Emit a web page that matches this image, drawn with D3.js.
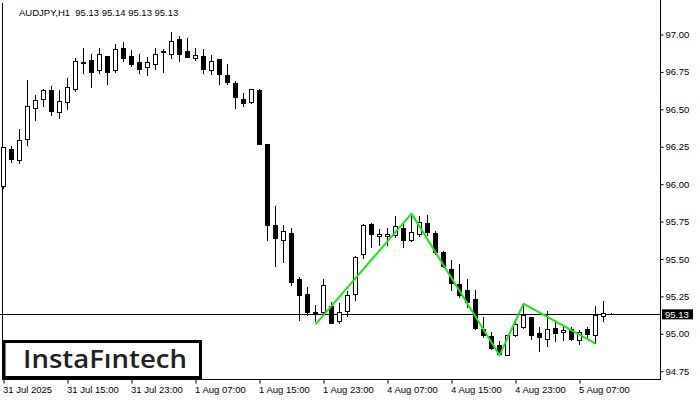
<!DOCTYPE html>
<html><head><meta charset="utf-8">
<script src="https://cdn.jsdelivr.net/npm/d3@7"></script>
<style>html,body{margin:0;padding:0;background:#fff;} svg{display:block}</style>
</head><body>
<svg id="c" width="700" height="400"></svg>
<script>
// ---- data (AUDJPY H1, bar 0 = 31 Jul 07:00) ----
const opens  = [95.986,96.235,96.164,96.305,96.512,96.572,96.628,96.485,96.547,96.636,96.810,96.828,96.766,96.855,96.766,96.913,96.853,96.813,96.783,96.803,96.886,96.870,96.969,96.888,96.844,96.855,96.766,96.835,96.728,96.676,96.572,96.549,96.628,96.267,95.725,95.630,95.672,95.364,95.269,95.140,95.146,95.184,95.086,95.155,95.269,95.531,95.737,95.656,95.656,95.658,95.710,95.625,95.670,95.739,95.674,95.547,95.436,95.331,95.291,95.231,95.030,94.983,94.923,94.856,94.995,95.045,95.110,95.008,94.968,95.041,95.012,95.035,94.957,95.030,94.995,95.119,95.130];
const highs  = [96.250,96.253,96.367,96.695,96.594,96.635,96.654,96.632,96.706,96.846,96.913,96.873,96.913,96.858,96.935,96.949,96.895,96.868,96.850,96.913,96.906,97.015,96.989,96.975,96.913,96.906,96.866,96.838,96.806,96.690,96.612,96.639,96.634,96.270,95.852,95.725,95.707,95.378,95.311,95.190,95.364,95.213,95.206,95.284,95.518,95.737,95.740,95.703,95.705,95.787,95.750,95.787,95.785,95.792,95.685,95.552,95.491,95.469,95.364,95.291,95.112,95.012,94.952,94.990,95.084,95.200,95.112,95.045,95.150,95.090,95.057,95.045,95.023,95.045,95.184,95.217,95.140];
const lows   = [95.973,96.148,96.142,96.260,96.427,96.520,96.460,96.443,96.500,96.623,96.743,96.650,96.743,96.670,96.750,96.824,96.790,96.743,96.728,96.770,96.750,96.844,96.824,96.850,96.830,96.743,96.739,96.666,96.666,96.512,96.523,96.543,96.270,95.630,95.453,95.480,95.329,95.090,95.124,95.086,95.140,95.072,95.072,95.117,95.229,95.509,95.580,95.596,95.596,95.650,95.580,95.620,95.652,95.658,95.536,95.445,95.291,95.246,95.179,95.030,94.979,94.901,94.856,94.856,94.985,95.040,94.968,94.885,94.917,94.950,94.961,94.957,94.935,94.979,94.941,95.084,95.130];
const closes = [96.245,96.171,96.293,96.525,96.565,96.632,96.489,96.554,96.652,96.826,96.815,96.750,96.868,96.750,96.906,96.844,96.801,96.770,96.813,96.873,96.890,96.955,96.870,96.850,96.866,96.770,96.824,96.733,96.683,96.583,96.543,96.634,96.271,95.725,95.640,95.685,95.346,95.262,95.146,95.143,95.329,95.075,95.146,95.262,95.513,95.730,95.670,95.670,95.670,95.723,95.630,95.683,95.750,95.680,95.547,95.451,95.342,95.257,95.213,95.039,94.990,94.905,94.868,94.990,95.064,95.124,94.995,94.979,95.030,95.008,95.028,94.968,95.012,95.001,95.128,95.142,95.130];
const xTickIndex  = [0,8,16,24,32,40,48,56,64,72];
const xTickLabels = ["31 Jul 2025","31 Jul 15:00","31 Jul 23:00","1 Aug 07:00","1 Aug 15:00","1 Aug 23:00","4 Aug 07:00","4 Aug 15:00","4 Aug 23:00","5 Aug 07:00"];
const yTicks = [94.75,95.00,95.25,95.50,95.75,96.00,96.25,96.50,96.75,97.00];
const patternIdx   = [39,51,62,65,74];
const patternPrice = [95.063,95.803,94.856,95.202,94.934];
const lastPrice = 95.13;
const headerText = "AUDJPY,H1  95.13 95.14 95.13 95.13";
const logoText = "InstaFıntech";

// ---- layout ----
const svg = d3.select("#c");
const plotLeft = 2, plotRight = 660, plotBottom = 379;
const x = d3.scaleLinear().domain([0,1]).range([3.5, 11.5]);
const y = d3.scaleLinear().domain([94.75, 97.00]).range([371.2, 34.5]);
const font = "'Liberation Sans', Arial, sans-serif";

// frame
svg.append("line").attr("x1",plotLeft+0.5).attr("x2",plotLeft+0.5).attr("y1",3).attr("y2",plotBottom+0.5).attr("stroke","#000");
svg.append("line").attr("x1",plotRight+0.5).attr("x2",plotRight+0.5).attr("y1",0).attr("y2",plotBottom+0.5).attr("stroke","#000");
svg.append("line").attr("x1",plotLeft).attr("x2",plotRight+1).attr("y1",plotBottom+0.5).attr("y2",plotBottom+0.5).attr("stroke","#000");

// y axis
const yAxis = d3.axisRight(y).tickValues(yTicks).tickFormat(d3.format(".2f")).tickSize(3).tickPadding(2);
const ya = svg.append("g").attr("transform",`translate(${plotRight+0.5},0)`).call(yAxis);
ya.select(".domain").remove();
ya.selectAll("text").attr("font-family",font).attr("font-size","9.5px").attr("fill","#000");
ya.selectAll("line").attr("stroke","#000");

// x axis
const xa = svg.append("g").attr("transform",`translate(0,${plotBottom+0.5})`)
  .call(d3.axisBottom(x).tickValues(xTickIndex).tickFormat((d,i)=>xTickLabels[i]).tickSize(4).tickPadding(3));
xa.select(".domain").remove();
xa.selectAll("line").attr("stroke","#000");
xa.selectAll("text").attr("font-family",font).attr("font-size","9.5px").attr("fill","#000")
  .attr("text-anchor","start").attr("x",-1);

// bid line
svg.append("line").attr("x1",0).attr("x2",plotRight).attr("y1",Math.round(y(lastPrice))+0.5).attr("y2",Math.round(y(lastPrice))+0.5)
  .attr("stroke","#000").attr("stroke-width",1).attr("shape-rendering","crispEdges");

// candles
const bars = d3.range(opens.length).map(i=>({i,o:opens[i],h:highs[i],l:lows[i],c:closes[i]}));
const g = svg.append("g").attr("shape-rendering","crispEdges");
g.selectAll("line.w").data(bars).join("line").attr("class","w")
  .attr("x1",d=>x(d.i)).attr("x2",d=>x(d.i))
  .attr("y1",d=>Math.round(y(d.h))).attr("y2",d=>Math.round(y(d.l))+1)
  .attr("stroke","#000");
g.selectAll("rect.b").data(bars).join("rect").attr("class","b")
  .attr("x",d=>x(d.i)-2).attr("width",4)
  .attr("y",d=>Math.round(y(Math.max(d.o,d.c)))+0.5)
  .attr("height",d=>Math.max(0,Math.round(y(Math.min(d.o,d.c)))-Math.round(y(Math.max(d.o,d.c)))))
  .attr("fill",d=>d.c>=d.o?"#fff":"#000").attr("stroke","#000");

// pattern line
svg.append("path").datum(patternIdx.map((d,k)=>[d,patternPrice[k]]))
  .attr("d",d3.line().x(d=>x(d[0])).y(d=>y(d[1])))
  .attr("fill","none").attr("stroke","#19e619").attr("stroke-width",2).attr("stroke-linejoin","round");

// price label
const py = y(lastPrice);
svg.append("rect").attr("x",662).attr("y",py-5).attr("width",31).attr("height",10).attr("fill","#000");
svg.append("text").attr("x",665).attr("y",py).attr("dy","0.35em").attr("font-family",font).attr("font-size","9.5px")
  .attr("fill","#fff").text(d3.format(".2f")(lastPrice));

// header
svg.append("text").attr("x",19).attr("y",16).attr("font-family",font).attr("font-size","9.5px").attr("fill","#000")
  .style("white-space","pre").text(headerText);

// logo
svg.append("rect").attr("x",4).attr("y",341.5).attr("width",196.5).attr("height",36).attr("fill","#fff").attr("stroke","#000").attr("stroke-width",3);
svg.append("text").attr("x",23).attr("y",368.3).attr("font-family","'Open Sans', sans-serif").attr("font-weight",600)
  .attr("font-size","24.5px").attr("fill","#222").attr("textLength",164).attr("lengthAdjust","spacingAndGlyphs").text(logoText);
</script>
</body></html>
